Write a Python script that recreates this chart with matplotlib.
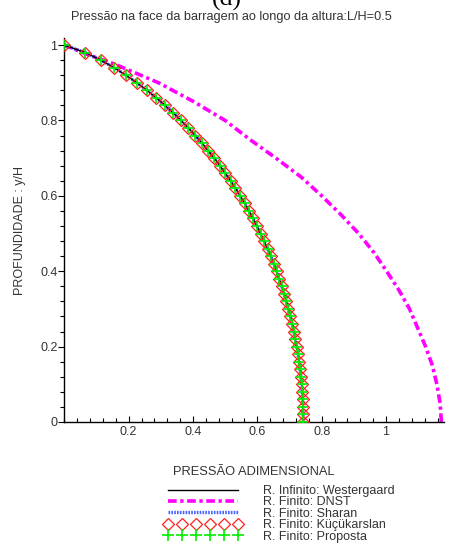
import matplotlib
matplotlib.use("Agg")
import matplotlib.pyplot as plt
from matplotlib.ticker import MultipleLocator, FixedLocator

plt.rcParams['font.family'] = ['Liberation Sans', 'DejaVu Sans']

# ---- data -------------------------------------------------------------
# relative height y/H (0..1, step 0.02) for the Westergaard-type curves
y_grid = [0.00, 0.02, 0.04, 0.06, 0.08, 0.10, 0.12, 0.14, 0.16, 0.18,
          0.20, 0.22, 0.24, 0.26, 0.28, 0.30, 0.32, 0.34, 0.36, 0.38,
          0.40, 0.42, 0.44, 0.46, 0.48, 0.50, 0.52, 0.54, 0.56, 0.58,
          0.60, 0.62, 0.64, 0.66, 0.68, 0.70, 0.72, 0.74, 0.76, 0.78,
          0.80, 0.82, 0.84, 0.86, 0.88, 0.90, 0.92, 0.94, 0.96, 0.98, 1.00]

westergaard = [0.7425, 0.7423, 0.7417, 0.7407, 0.7392, 0.7374, 0.7352, 0.7326, 0.7296, 0.7261,
               0.7223, 0.7180, 0.7133, 0.7082, 0.7026, 0.6966, 0.6901, 0.6832, 0.6758, 0.6680,
               0.6596, 0.6508, 0.6415, 0.6316, 0.6212, 0.6103, 0.5988, 0.5867, 0.5740, 0.5606,
               0.5467, 0.5320, 0.5166, 0.5005, 0.4836, 0.4659, 0.4473, 0.4277, 0.4072, 0.3855,
               0.3627, 0.3385, 0.3130, 0.2858, 0.2568, 0.2256, 0.1919, 0.1549, 0.1136, 0.0656, 0.0]

sharan = [0.7425, 0.7423, 0.7417, 0.7407, 0.7392, 0.7374, 0.7352, 0.7326, 0.7296, 0.7261,
          0.7223, 0.7180, 0.7133, 0.7082, 0.7026, 0.6966, 0.6901, 0.6832, 0.6758, 0.6680,
          0.6596, 0.6508, 0.6415, 0.6316, 0.6212, 0.6103, 0.5988, 0.5867, 0.5740, 0.5606,
          0.5467, 0.5320, 0.5166, 0.5005, 0.4836, 0.4659, 0.4473, 0.4277, 0.4072, 0.3855,
          0.3627, 0.3385, 0.3130, 0.2858, 0.2568, 0.2256, 0.1919, 0.1549, 0.1136, 0.0656, 0.0]

kucukarslan = [0.7425, 0.7423, 0.7417, 0.7407, 0.7392, 0.7374, 0.7352, 0.7326, 0.7296, 0.7261,
               0.7223, 0.7180, 0.7133, 0.7082, 0.7026, 0.6966, 0.6901, 0.6832, 0.6758, 0.6680,
               0.6596, 0.6508, 0.6415, 0.6316, 0.6212, 0.6103, 0.5988, 0.5867, 0.5740, 0.5606,
               0.5467, 0.5320, 0.5166, 0.5005, 0.4836, 0.4659, 0.4473, 0.4277, 0.4072, 0.3855,
               0.3627, 0.3385, 0.3130, 0.2858, 0.2568, 0.2256, 0.1919, 0.1549, 0.1136, 0.0656, 0.0]

proposta = [0.7425, 0.7423, 0.7417, 0.7407, 0.7392, 0.7374, 0.7352, 0.7326, 0.7296, 0.7261,
            0.7223, 0.7180, 0.7133, 0.7082, 0.7026, 0.6966, 0.6901, 0.6832, 0.6758, 0.6680,
            0.6596, 0.6508, 0.6415, 0.6316, 0.6212, 0.6103, 0.5988, 0.5867, 0.5740, 0.5606,
            0.5467, 0.5320, 0.5166, 0.5005, 0.4836, 0.4659, 0.4473, 0.4277, 0.4072, 0.3855,
            0.3627, 0.3385, 0.3130, 0.2858, 0.2568, 0.2256, 0.1919, 0.1549, 0.1136, 0.0656, 0.0]

# DNST curve
y_dnst = [0.00, 0.05, 0.10, 0.15, 0.20, 0.25, 0.30, 0.35, 0.40, 0.45, 0.50,
          0.55, 0.60, 0.65, 0.70, 0.75, 0.80, 0.85, 0.90, 0.95, 0.975, 1.00]
p_dnst = [1.172, 1.168, 1.158, 1.144, 1.123, 1.098, 1.073, 1.040, 1.002, 0.962, 0.915,
          0.860, 0.800, 0.736, 0.658, 0.576, 0.500, 0.402, 0.293, 0.155, 0.072, 0.0]

labels = ["R. Infinito: Westergaard", "R. Finito: DNST", "R. Finito: Sharan",
          "R. Finito: Küçükarslan", "R. Finito: Proposta"]

x_major = [0.2, 0.4, 0.6, 0.8, 1.0]
x_major_labels = ["0.2", "0.4", "0.6", "0.8", "1"]
y_major = [0.0, 0.2, 0.4, 0.6, 0.8, 1.0]
y_major_labels = ["0", "0.2", "0.4", "0.6", "0.8", "1"]

txt_color = '#333333'

# ---- figure -------------------------------------------------------------
fig = plt.figure(figsize=(4.53, 5.45), dpi=100)
ax = fig.add_axes([0.142, 0.2257, 0.838, 0.704])

h1, = ax.plot(westergaard, y_grid, color='black', lw=1.0, zorder=3)
h2, = ax.plot(p_dnst, y_dnst, color='#ff00ff', lw=2.6,
              linestyle=(0, (2.4, 1.0, 0.9, 1.0)), zorder=2)
h3, = ax.plot(sharan, y_grid, color='#2040ff', lw=2.4,
              linestyle=(0, (0.5, 0.35)), zorder=2, alpha=0.8)
h4, = ax.plot(kucukarslan, y_grid, linestyle='none', marker='D', ms=6.0,
              mfc='none', mec='#ff2020', mew=0.9, zorder=4)
h5, = ax.plot(proposta, y_grid, linestyle='none', marker='+', ms=7,
              mec='#00ee00', mew=1.2, zorder=5)

ax.set_xlim(0, 1.18)
ax.set_ylim(0, 1.018)

for s in ['top', 'right']:
    ax.spines[s].set_visible(False)
ax.spines['left'].set_color('black')
ax.spines['bottom'].set_color('black')
ax.spines['left'].set_linewidth(1.0)
ax.spines['bottom'].set_linewidth(1.0)

ax.xaxis.set_major_locator(FixedLocator(x_major))
ax.set_xticklabels(x_major_labels)
ax.xaxis.set_minor_locator(MultipleLocator(0.04))
ax.yaxis.set_major_locator(FixedLocator(y_major))
ax.set_yticklabels(y_major_labels)
ax.yaxis.set_minor_locator(MultipleLocator(0.04))

ax.tick_params(axis='x', which='major', direction='in', length=4, width=0.8,
               labelsize=9, labelcolor=txt_color, pad=3)
ax.tick_params(axis='x', which='minor', direction='in', length=3, width=0.8)
ax.tick_params(axis='y', which='major', direction='out', length=4, width=0.8,
               labelsize=9, labelcolor=txt_color, pad=1)
ax.tick_params(axis='y', which='minor', direction='out', length=3, width=0.8)

ax.set_ylabel("PROFUNDIDADE : y/H", fontsize=9, color=txt_color, labelpad=10)
ax.set_xlabel("PRESSÃO ADIMENSIONAL", fontsize=9.3, color=txt_color, labelpad=20)

fig.text(0.5, 0.989, "(d)", family=['Liberation Serif'], fontsize=18.5,
         ha='center', va='baseline', color='black')
fig.text(0.51, 0.969, "Pressão na face da barragem ao longo da altura:L/H=0.5",
         fontsize=9.2, ha='center', va='center', color=txt_color)

leg = fig.legend([h1, h2, h3, h4, h5], labels, loc='upper left',
                 bbox_to_anchor=(0.362, 0.110), frameon=False, fontsize=9,
                 handlelength=6.2, handletextpad=1.75, labelspacing=-0.05,
                 numpoints=6, borderaxespad=0, borderpad=0)
for t in leg.get_texts():
    t.set_color(txt_color)
lh = leg.legend_handles
lh[3].set_markersize(6.3)
lh[4].set_markersize(8)

fig.savefig("out.png", dpi=100)
